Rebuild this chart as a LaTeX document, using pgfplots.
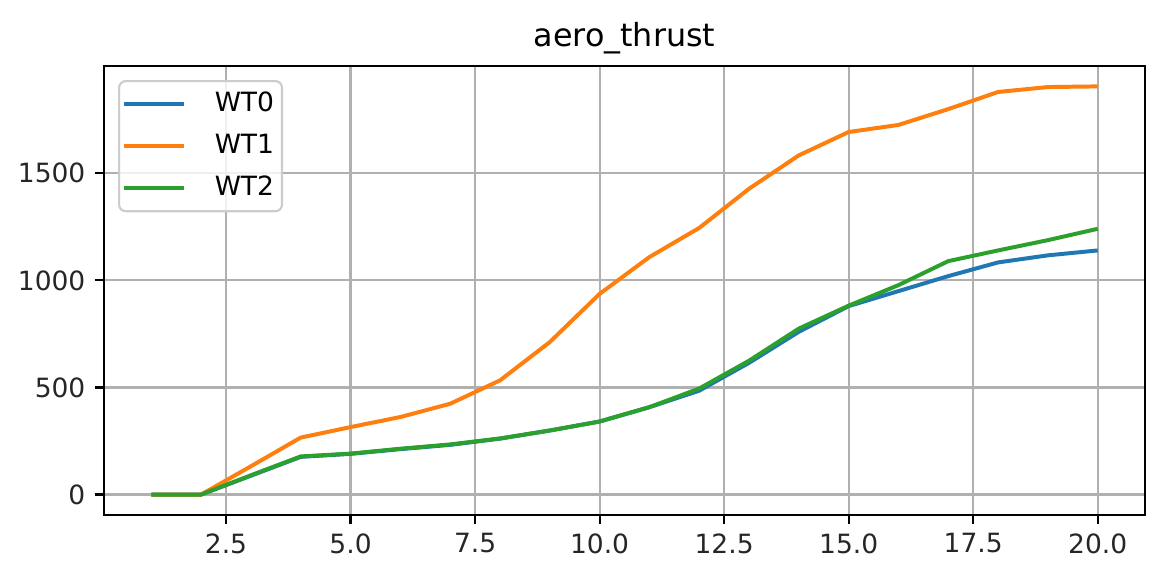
\documentclass[border=0pt]{standalone}
\usepackage{fontspec}
\setmainfont{DejaVu Sans}
\usepackage{pgfplots}
\pgfplotsset{compat=1.18}

\definecolor{mplblue}{HTML}{1F77B4}
\definecolor{mplorange}{HTML}{FF7F0E}
\definecolor{mplgreen}{HTML}{2CA02C}
\definecolor{gridgray}{HTML}{B0B0B0}
\definecolor{legendedge}{HTML}{CCCCCC}

\begin{document}
\begin{tikzpicture}
\begin{axis}[
  scale only axis,
  width=392.8pt, height=169.4pt,
  xmin=0.05, xmax=20.95,
  ymin=-95.3, ymax=2001.3,
  axis line style={black, line width=0.8pt},
  tick align=outside,
  tick pos=left,
  major tick length=3.5pt,
  every tick/.style={black, line width=0.8pt},
  xtick={2.5,5,7.5,10,12.5,15,17.5,20},
  xticklabels={2.5,5.0,7.5,10.0,12.5,15.0,17.5,20.0},
  ytick={0,500,1000,1500},
  yticklabels={0,500,1000,1500},
  ticklabel style={font=\fontsize{10}{12}\selectfont, text=black!85},
  grid=major,
  major grid style={gridgray, line width=0.8pt},
  title={aero\_thrust},
  title style={font=\fontsize{12}{14}\selectfont, anchor=base, at={(0.5,1)}, yshift=1.3pt},
  legend cell align=left,
  legend style={
    at={(0,1)}, anchor=north west, xshift=5.3pt, yshift=-5.3pt,
    draw=legendedge, line width=0.8pt, rounded corners=2.5pt,
    fill=white, fill opacity=0.8, text opacity=1,
    font=\fontsize{10}{12}\selectfont,
    inner xsep=1pt, inner ysep=2pt,
    row sep=2.3pt, column sep=9pt,
    nodes={inner sep=2pt, text height=7.5pt, text depth=2pt},
  },
  legend image code/.code={\draw[#1, line width=1.5pt] (0pt,0pt) -- (22.6pt,0pt);},
  clip=false,
]
% wind speed vs. aerodynamic thrust for each turbine
\addplot[mplblue, line width=1.5pt] coordinates {
  (1,0) (2,0) (3,88) (4,176) (5,190) (6,212) (7,232) (8,261) (9,299) (10,341)
  (11,408) (12,485) (13,615) (14,760) (15,880) (16,950) (17,1020) (18,1084)
  (19,1117) (20,1140)
};
\addlegendentry{WT0}
\addplot[mplorange, line width=1.5pt] coordinates {
  (1,0) (2,0) (3,132) (4,266) (5,315) (6,362) (7,424) (8,533) (9,712) (10,937)
  (11,1109) (12,1245) (13,1428) (14,1584) (15,1693) (16,1726) (17,1800) (18,1880)
  (19,1903) (20,1906)
};
\addlegendentry{WT1}
\addplot[mplgreen, line width=1.5pt] coordinates {
  (1,0) (2,0) (3,90) (4,178) (5,191) (6,214) (7,234) (8,262) (9,299) (10,341)
  (11,408) (12,495) (13,625) (14,775) (15,882) (16,978) (17,1090) (18,1140)
  (19,1188) (20,1241)
};
\addlegendentry{WT2}
% page extent around the axis box
\path (rel axis cs:-0.0999,-0.1292) rectangle (rel axis cs:1.0144,1.147);
\end{axis}
\end{tikzpicture}
\end{document}
